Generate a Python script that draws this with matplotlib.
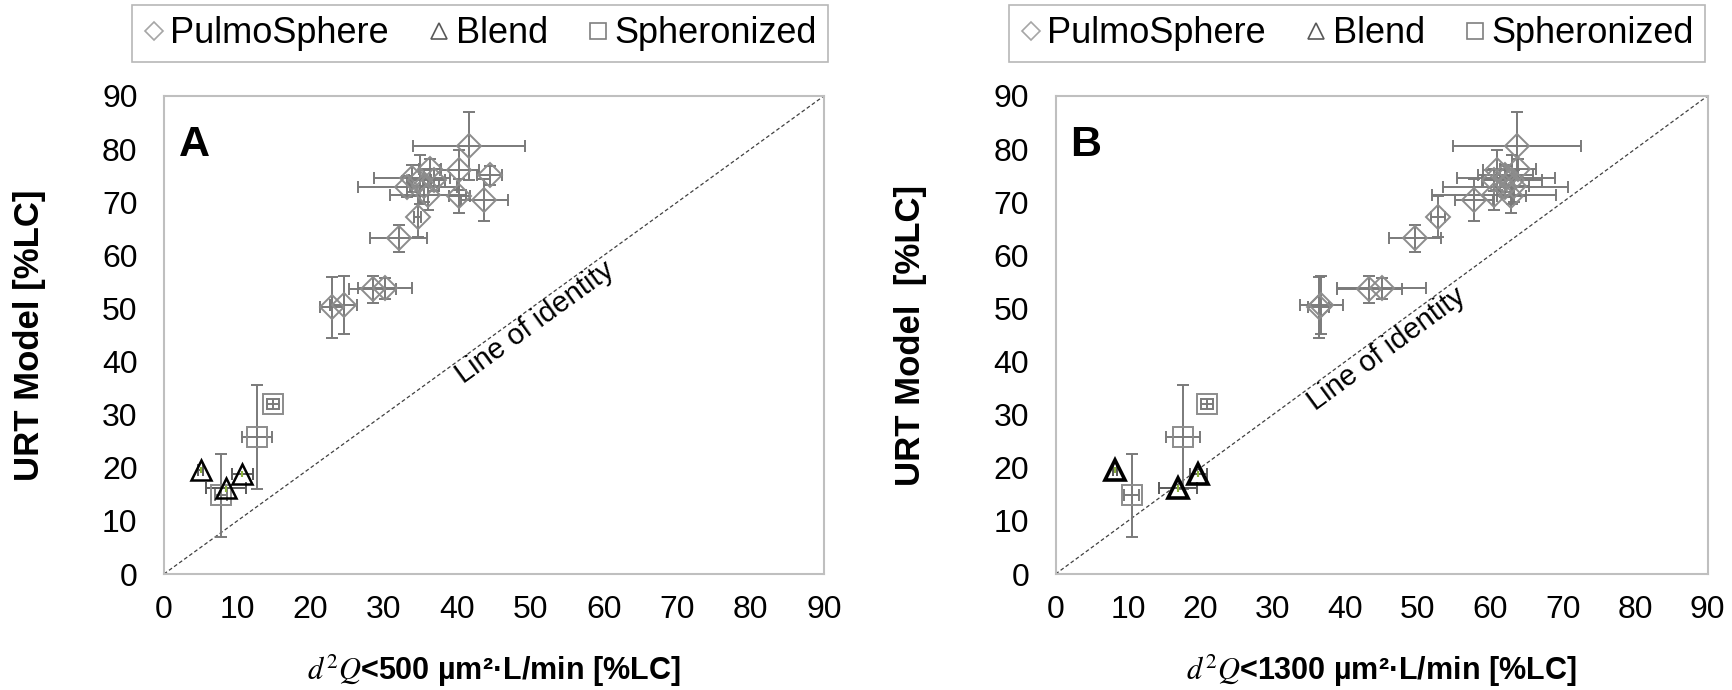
import numpy as np
import matplotlib.pyplot as plt
from matplotlib.lines import Line2D

plt.rcParams['font.family'] = ['Liberation Sans', 'DejaVu Sans']
plt.rcParams['mathtext.fontset'] = 'stix'

# ---- data ----
# PulmoSphere (URT model values are shared by both panels)
ps_y = [80.5, 76.1, 76.2, 75.1, 74.5, 74.2, 74.2, 72.9, 73.0, 71.4, 71.1, 70.4, 67.3, 63.2, 53.8, 53.6, 50.6, 50.2]
ps_yerr = [6.4, 3.8, 2.0, 1.8, 2.5, 4.6, 2.0, 2.0, 3.0, 2.8, 3.2, 4.0, 3.9, 2.6, 2.0, 2.5, 5.5, 5.8]
ps_xA = [41.6, 40.3, 36.3, 44.4, 33.8, 34.9, 36.8, 33.2, 35.5, 36.0, 40.3, 43.7, 34.6, 32.0, 30.1, 28.5, 24.5, 22.9]
ps_xerrA = [7.6, 2.6, 1.5, 1.75, 5.2, 1.5, 1.5, 6.7, 2.0, 5.2, 1.4, 3.2, 0.5, 3.9, 3.7, 3.2, 1.8, 1.6]
ps_xB = [63.7, 61.0, 63.8, 62.1, 62.2, 63.0, 60.5, 62.1, 63.3, 60.5, 62.9, 57.8, 52.8, 49.6, 45.0, 43.3, 36.7, 36.3]
ps_xerrB = [8.9, 2.0, 2.5, 3.8, 6.8, 4.2, 1.5, 8.6, 2.0, 8.6, 2.0, 2.6, 1.0, 3.6, 6.2, 4.5, 3.0, 1.5]

# Blend
bl_y = [19.6, 16.1, 18.8]
bl_yerr = [0.6, 0.6, 0.6]
bl_xA = [5.0, 8.5, 10.7]
bl_xerrA = [0.3, 2.7, 1.4]
bl_xB = [8.2, 16.9, 19.7]
bl_xerrB = [0.3, 2.6, 1.2]

# Spheronized
sp_y = [32.0, 25.8, 14.8]
sp_yerr = [1.0, 9.8, 7.8]
sp_xA = [14.9, 12.7, 7.8]
sp_xerrA = [0.8, 2.0, 0.8]
sp_xB = [20.9, 17.6, 10.5]
sp_xerrB = [0.8, 2.3, 1.0]

ticks = list(range(0, 91, 10))
panels = ['A', 'B']
xlabels = [r'$d^2Q$<500 µm²·L/min [%LC]', r'$d^2Q$<1300 µm²·L/min [%LC]']
ylabels = ['URT Model [%LC]', 'URT Model  [%LC]']

# ---- figure ----
fig = plt.figure(figsize=(17.33, 6.90), dpi=100)
axA = fig.add_axes([0.0946, 0.1681, 0.3808, 0.6928])
axB = fig.add_axes([0.6091, 0.1681, 0.3762, 0.6928])

series = [
    (axA, ps_xA, ps_xerrA, bl_xA, bl_xerrA, sp_xA, sp_xerrA, 49.5, -0.178, 1.8, 0.277),
    (axB, ps_xB, ps_xerrB, bl_xB, bl_xerrB, sp_xB, sp_xerrB, 44.5, -0.197, 2.6, 0.783),
]

gray = '#7a7a7a'
for i, (ax, psx, psxe, blx, blxe, spx, spxe, lab_pos, ylab_x, tri_lw, lx) in enumerate(series):
    # line of identity
    ax.plot([0, 90], [0, 90], color='#404040', lw=0.9, ls=(0, (3, 2)), zorder=1)
    ax.text(lab_pos, lab_pos, 'Line of identity', rotation=45, transform_rotates_text=True,
            rotation_mode='anchor', ha='center', va='top', fontsize=21, color='black')

    ax.errorbar(psx, ps_y, xerr=psxe, yerr=ps_yerr, fmt='none', ecolor=gray,
                elinewidth=1.4, capsize=4, capthick=1.4, zorder=2)
    ax.plot(psx, ps_y, ls='none', marker='D', ms=12.5, mfc='none', mec='#8c8c8c', mew=1.4, zorder=3)

    ax.errorbar(spx, sp_y, xerr=spxe, yerr=sp_yerr, fmt='none', ecolor=gray,
                elinewidth=1.4, capsize=4, capthick=1.4, zorder=2)
    ax.plot(spx, sp_y, ls='none', marker='s', ms=15, mfc='none', mec='#8c8c8c', mew=1.4, zorder=3)

    ax.errorbar(blx, bl_y, xerr=blxe, fmt='none', ecolor='#595959',
                elinewidth=1.4, capsize=4, capthick=1.4, zorder=2)
    ax.errorbar(blx, bl_y, yerr=bl_yerr, fmt='none', ecolor='#8cb33b',
                elinewidth=1.5, capsize=0, zorder=2)
    ax.plot(blx, bl_y, ls='none', marker='^', ms=14, mfc='none', mec='black', mew=tri_lw, zorder=4)

    ax.set_xlim(0, 90)
    ax.set_ylim(0, 90)
    ax.set_xticks(ticks)
    ax.set_yticks(ticks)
    ax.tick_params(axis='both', length=0, labelsize=23)
    ax.tick_params(axis='x', pad=15)
    ax.tick_params(axis='y', pad=19)
    for s in ax.spines.values():
        s.set_color('#bfbfbf')
        s.set_linewidth(1.5)

    ax.set_xlabel(xlabels[i], fontsize=22, fontweight='bold')
    ax.xaxis.set_label_coords(0.5, -0.165)
    ax.set_ylabel(ylabels[i], fontsize=25, fontweight='bold')
    ax.yaxis.set_label_coords(ylab_x, 0.5)

    ax.text(0.022, 0.94, panels[i], transform=ax.transAxes, fontsize=31,
            fontweight='bold', ha='left', va='top')

    handles = [
        Line2D([], [], ls='none', marker='D', ms=9, mfc='none', mec='#a6a6a6', mew=1.2),
        Line2D([], [], ls='none', marker='^', ms=12, mfc='none', mec='#595959', mew=1.2),
        Line2D([], [], ls='none', marker='s', ms=11, mfc='none', mec='#7f7f7f', mew=1.2),
    ]
    leg = ax.legend(handles, ['PulmoSphere', 'Blend', 'Spheronized'], loc='center',
                    bbox_to_anchor=(lx, 0.951), bbox_transform=fig.transFigure, ncol=3,
                    fontsize=26, frameon=True, fancybox=False, handlelength=0.6,
                    handletextpad=0.15, columnspacing=1.1, borderpad=0.3)
    leg.get_frame().set_edgecolor('#a6a6a6')
    leg.get_frame().set_linewidth(1.2)

fig.savefig('out.png', dpi=100)
